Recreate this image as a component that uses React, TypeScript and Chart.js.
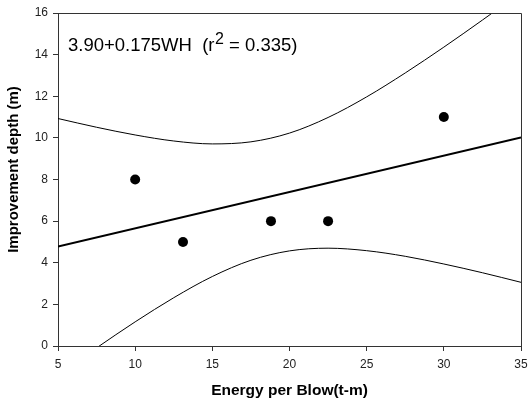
import React, { useEffect, useRef } from "react";
import { Chart, registerables } from "chart.js";

Chart.register(...registerables);

const energy = [10, 13.1, 18.8, 22.5, 30];
const depth = [8, 5, 6, 6, 11];
const fitX = [5, 35];
const fitY = [4.775, 10.025];
const bandX = [5, 7.5, 10, 12.5, 15, 17.5, 20, 22.5, 25, 27.5, 30, 32.5, 35];
const upperBand = [10.93, 10.51, 10.14, 9.85, 9.71, 9.81, 10.23, 10.98, 11.97, 13.12, 14.36, 15.66, 16.99];
const lowerBand = [-1.39, -0.09, 1.16, 2.32, 3.34, 4.12, 4.57, 4.7, 4.58, 4.31, 3.94, 3.52, 3.06];
const xTicks = [5, 10, 15, 20, 25, 30, 35];
const yTicks = [0, 2, 4, 6, 8, 10, 12, 14, 16];
const xTitle = "Energy per Blow(t-m)";
const yTitle = "Improvement depth (m)";
const annotation = { pre: "3.90+0.175WH  (r", sup: "2", post: " = 0.335)" };

const FONT = "'Liberation Sans', Arial, sans-serif";

export default function App() {
  const ref = useRef<HTMLCanvasElement>(null);
  useEffect(() => {
    document.body.style.margin = "0";
    const ctx = ref.current!.getContext("2d")!;
    const boxPlugin = {
      id: "box",
      afterDraw(chart: any) {
        const { ctx, chartArea: a } = chart;
        ctx.save();
        ctx.strokeStyle = "#333";
        ctx.lineWidth = 1;
        ctx.beginPath();
        ctx.moveTo(a.left, a.top + 0.5);
        ctx.lineTo(a.right + 0.5, a.top + 0.5);
        ctx.lineTo(a.right + 0.5, a.bottom);
        ctx.stroke();
        // y title
        ctx.fillStyle = "#000";
        ctx.font = `bold 15px ${FONT}`;
        ctx.textAlign = "center";
        ctx.textBaseline = "middle";
        ctx.save();
        ctx.translate(14, (a.top + a.bottom) / 2 - 10);
        ctx.rotate(-Math.PI / 2);
        ctx.fillText(yTitle, 0, 0);
        ctx.restore();
        // annotation
        ctx.textAlign = "left";
        ctx.textBaseline = "alphabetic";
        ctx.font = `18.5px ${FONT}`;
        let x = a.left + 10;
        const y = a.top + 38;
        ctx.fillText(annotation.pre, x, y);
        x += ctx.measureText(annotation.pre).width + 0.5;
        ctx.font = `16px ${FONT}`;
        ctx.fillText(annotation.sup, x, y - 7);
        x += ctx.measureText(annotation.sup).width;
        ctx.font = `18.5px ${FONT}`;
        ctx.fillText(annotation.post, x, y);
        ctx.restore();
      },
    };
    const chart = new Chart(ctx, {
      type: "scatter",
      data: {
        datasets: [
          {
            label: "upper",
            data: bandX.map((x, i) => ({ x, y: upperBand[i] })),
            showLine: true,
            borderColor: "#000",
            borderWidth: 1,
            pointRadius: 0,
            cubicInterpolationMode: "monotone",
          } as any,
          {
            label: "lower",
            data: bandX.map((x, i) => ({ x, y: lowerBand[i] })),
            showLine: true,
            borderColor: "#000",
            borderWidth: 1,
            pointRadius: 0,
            cubicInterpolationMode: "monotone",
          } as any,
          {
            label: "fit",
            data: fitX.map((x, i) => ({ x, y: fitY[i] })),
            showLine: true,
            borderColor: "#000",
            borderWidth: 2,
            pointRadius: 0,
          },
          {
            label: "data",
            data: energy.map((x, i) => ({ x, y: depth[i] })),
            pointRadius: 5,
            pointBackgroundColor: "#000",
            pointBorderColor: "#000",
            pointBorderWidth: 0,
          },
        ],
      },
      options: {
        animation: false,
        responsive: false,
        layout: { padding: { top: 13, right: 7, left: 0, bottom: 0 } },
        plugins: { legend: { display: false }, tooltip: { enabled: false } },
        scales: {
          x: {
            type: "linear",
            min: 5,
            max: 35,
            afterBuildTicks: (s: any) => {
              s.ticks = xTicks.map((v) => ({ value: v }));
            },
            afterFit: (s: any) => {
              s.height = 57;
              s.paddingLeft = 0;
              s.paddingRight = 0;
            },
            ticks: { color: "#222", font: { family: FONT, size: 12 }, padding: 6, maxRotation: 0 },
            grid: { drawOnChartArea: false, tickLength: 5, color: "#333" },
            border: { color: "#333" },
            title: {
              display: true,
              text: xTitle,
              color: "#000",
              font: { family: FONT, size: 15.5, weight: "bold" },
              padding: { top: 0, bottom: 3 },
            },
          },
          y: {
            type: "linear",
            min: 0,
            max: 16,
            afterBuildTicks: (s: any) => {
              s.ticks = yTicks.map((v) => ({ value: v }));
            },
            afterFit: (s: any) => {
              s.width = 58;
              s.paddingTop = 0;
              s.paddingBottom = 0;
            },
            ticks: { color: "#222", font: { family: FONT, size: 12 }, padding: 5 },
            grid: { drawOnChartArea: false, tickLength: 5, color: "#333" },
            border: { color: "#333" },
            title: { display: false },
          },
        },
      },
      plugins: [boxPlugin],
    });
    return () => chart.destroy();
  }, []);
  return <canvas ref={ref} width={528} height={403} style={{ display: "block" }} />;
}
